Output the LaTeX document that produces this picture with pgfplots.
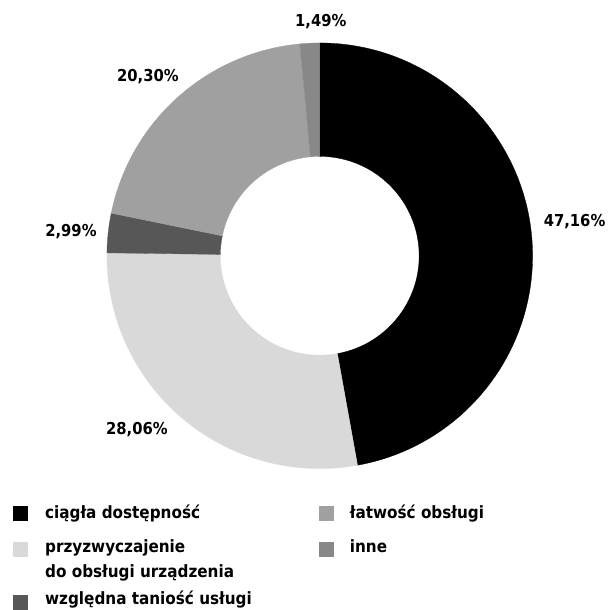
\documentclass[border=0pt]{standalone}
\usepackage{pgfplots}
\pgfplotsset{compat=1.18}
\usepackage{pgfplotstable}
\usepackage{fontspec}
\setmainfont{DejaVu Sans Condensed}
\definecolor{c0}{HTML}{000000}
\definecolor{c1}{HTML}{D9D9D9}
\definecolor{c2}{HTML}{575757}
\definecolor{c3}{HTML}{A0A0A0}
\definecolor{c4}{HTML}{888888}
% slice values (percent, clockwise from top) and label positions
\pgfplotstableread{
value lx ly
47.16 575 388
28.06 137 180
2.99 71 378
20.30 148 533
1.49 321 588
}\slices
\begin{document}
\begin{tikzpicture}
\begin{axis}[hide axis, scale only axis, width=610bp, height=610bp,
  xmin=0, xmax=610, ymin=0, ymax=610, clip=false,
  /pgf/number format/assume math mode=true]
\path (axis cs:0,0) rectangle (axis cs:610,610);
\pgfmathsetmacro{\cum}{0}
\pgfplotsforeachungrouped \i in {0,...,4}{%
  \pgfplotstablegetelem{\i}{value}\of\slices \let\v\pgfplotsretval
  \pgfplotstablegetelem{\i}{lx}\of\slices \let\lx\pgfplotsretval
  \pgfplotstablegetelem{\i}{ly}\of\slices \let\ly\pgfplotsretval
  \pgfmathsetmacro\a{90-3.6*\cum}%
  \pgfmathsetmacro\cumn{\cum+\v}%
  \pgfmathsetmacro\b{90-3.6*\cumn}%
  \edef\temp{\noexpand\fill[c\i, draw=c\i, line width=0.3pt]
    ([shift={(\a:213bp)}]axis cs:320,354) arc[start angle=\a, end angle=\b, radius=213bp]
    -- ([shift={(\b:99.5bp)}]axis cs:320,354) arc[start angle=\b, end angle=\a, radius=99.5bp] -- cycle;
    \noexpand\node[font=\noexpand\bfseries\noexpand\fontsize{16.5}{16.5}\noexpand\selectfont] at (axis cs:\lx,\ly)
      {\noexpand\pgfmathprintnumber[fixed,fixed zerofill,precision=2,use comma,assume math mode=true]{\v}\noexpand\%};}%
  \temp
  \global\let\cum\cumn
}
% legend
\begin{scope}[every node/.style={anchor=base west, inner sep=0pt, font=\bfseries\fontsize{17}{17}\selectfont}]
\fill[c0] (axis cs:13.5,89) rectangle (axis cs:28.5,104);
\node at (axis cs:45,91) {ciągła dostępność};
\fill[c1] (axis cs:13.5,52.5) rectangle (axis cs:28.5,67.5);
\node at (axis cs:45,57) {przyzwyczajenie};
\node at (axis cs:45,32) {do obsługi urządzenia};
\fill[c2] (axis cs:13.5,-0.5) rectangle (axis cs:28.5,14.5);
\node at (axis cs:45,5) {względna taniość usługi};
\fill[c3] (axis cs:319,89) rectangle (axis cs:334,104);
\node at (axis cs:350,91) {łatwość obsługi};
\fill[c4] (axis cs:319,52.5) rectangle (axis cs:334,67.5);
\node at (axis cs:350,57) {inne};
\end{scope}
\end{axis}
\end{tikzpicture}
\end{document}
